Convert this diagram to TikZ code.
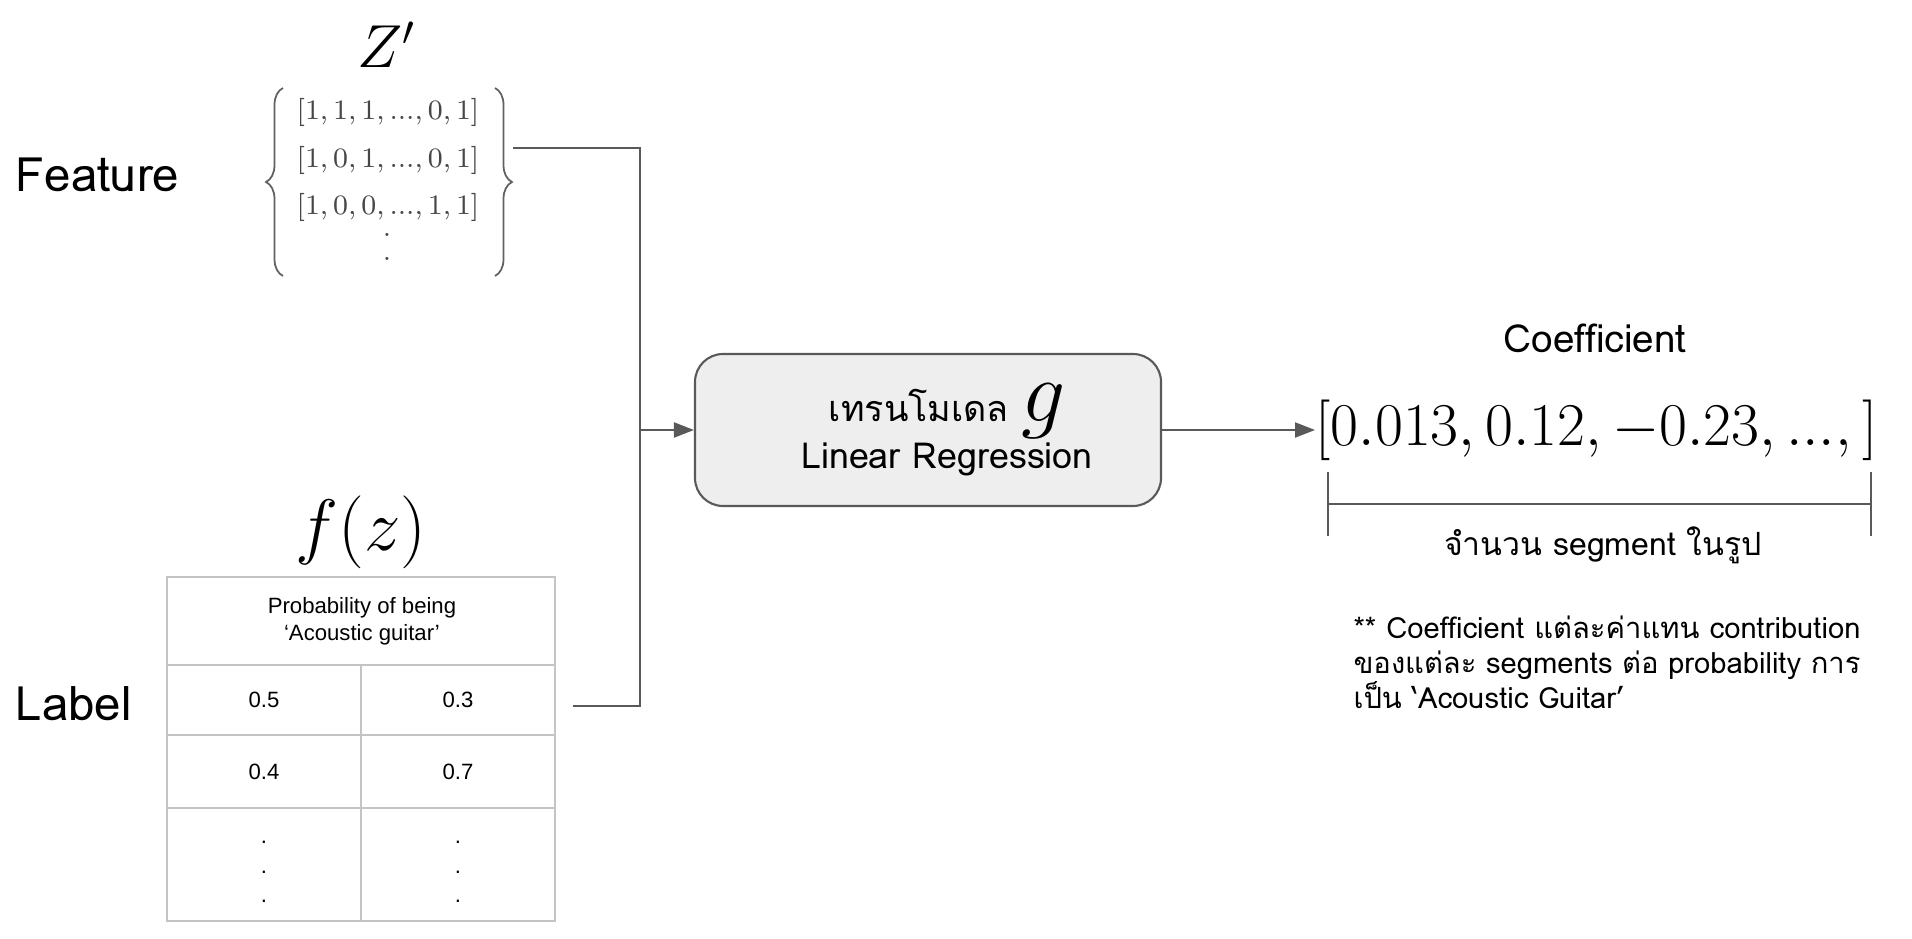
\documentclass[tikz,border=0pt]{standalone}
\usepackage{fontspec}
\newfontfamily\thaifont[Script=Thai]{Loma}
\newfontfamily\tabfont{Liberation Sans}
\usetikzlibrary{arrows.meta,decorations.pathreplacing}
\definecolor{linegray}{HTML}{595959}
\definecolor{cellgray}{HTML}{C4C4C4}
\definecolor{boxfill}{HTML}{EEEEEE}

\begin{document}
\begin{tikzpicture}[conn/.style={draw=linegray, line width=0.6pt},
    >={Triangle[length=0.2cm,width=0.15cm]},
    modelbox/.style={rectangle, rounded corners=0.28cm, draw=linegray, fill=boxfill, line width=0.6pt, minimum width=4.66cm, minimum height=1.52cm},
    sidetext/.style={font=\thaifont\fontsize{13.5}{15}\selectfont, anchor=west, inner sep=0pt},
    zrow/.style={text=black!72, inner sep=0pt, font=\fontsize{8.2}{10}\selectfont},
    setbrace/.style={draw=black!62, line width=0.5pt, decorate, decoration={brace, amplitude=0.17cm}},
    cell/.style={font=\tabfont\fontsize{6.3}{7.6}\selectfont},
    celldots/.style={cell, align=center, font=\tabfont\fontsize{6.3}{8.4}\selectfont},
    cellline/.style={draw=cellgray, line width=0.6pt}]
    \useasboundingbox (0,0) rectangle (19.12,9.38);

    % inputs
    \node (feat) at (0.15,7.63) [sidetext] {Feature};
    \node (lab) at (0.15,2.34) [sidetext] {Label};
    \node (zp) at (3.87,8.93) {\fontsize{17.5}{20}\selectfont$Z'$};
    \node (z1) at (3.88,8.26) [zrow] {$[1,1,1,...,0,1]$};
    \node (z2) at (3.88,7.78) [zrow] {$[1,0,1,...,0,1]$};
    \node (z3) at (3.88,7.31) [zrow] {$[1,0,0,...,1,1]$};
    \node (zd1) at (3.87,7.03) [zrow] {$.$};
    \node (zd2) at (3.87,6.79) [zrow] {$.$};
    \draw [setbrace] (2.83,6.62) -- (2.83,8.50);
    \draw [setbrace] (4.95,8.50) -- (4.95,6.62);
    \node (fz) at (3.61,4.06) {\fontsize{21.5}{24}\selectfont$f(z)$};

    % table of f(z)
    \node (tab) at (3.61,1.89) [draw=cellgray, line width=0.6pt, minimum width=3.88cm, minimum height=3.44cm, inner sep=0pt] {};
    \draw [cellline] (1.67,2.73) -- (5.55,2.73);
    \draw [cellline] (1.67,2.03) -- (5.55,2.03);
    \draw [cellline] (1.67,1.30) -- (5.55,1.30);
    \draw [cellline] (3.61,2.73) -- (3.61,0.17);
    \node (head) at (3.62,3.17) [cell, align=center] {Probability of being\\‘Acoustic guitar’};
    \node (c11) at (2.64,2.38) [cell] {0.5};
    \node (c12) at (4.58,2.38) [cell] {0.3};
    \node (c21) at (2.64,1.66) [cell] {0.4};
    \node (c22) at (4.58,1.66) [cell] {0.7};
    \node (c31) at (2.64,0.66) [celldots] {.\\.\\.};
    \node (c32) at (4.58,0.66) [celldots] {.\\.\\.};

    % model
    \node (model) at (9.28,5.08) [modelbox] {};
    \node (modeltxt) at (9.47,5.08) [align=center, font=\thaifont\fontsize{10.2}{13.4}\selectfont]
      {เทรนโมเดล {\fontsize{23}{23}\selectfont$g$}\\Linear Regression};

    % output
    \node (coef) at (15.95,6.00) [font=\thaifont\fontsize{11}{13}\selectfont] {Coefficient};
    \node (vec) at (13.15,5.08) [anchor=west, inner sep=0pt] {\fontsize{18.1}{20}\selectfont$[0.013, 0.12, -0.23, ..., ]$};
    \coordinate (segL) at (13.27,4.34);
    \coordinate (segR) at (18.72,4.34);
    \node (segtxt) at (16.03,3.93) [font=\thaifont\fontsize{9.1}{12}\selectfont] {จำนวน segment ในรูป};
    \node (note) at (16.07,2.76) [text width=5.07cm, align=justify, inner sep=0pt, font=\thaifont\fontsize{8.3}{10}\selectfont]
      {** Coefficient แต่ละค่าแทน contribution\linebreak ของแต่ละ segments ต่อ probability การ\linebreak เป็น ‘Acoustic Guitar’};

    % connectors
    \coordinate (featout) at (5.13,7.90);
    \coordinate (labout) at (5.73,2.32);
    \coordinate (join) at (6.40,5.08);
    \draw [conn] (featout) -| (join);
    \draw [conn] (labout) -| (join);
    \draw [conn, ->] (join) -- (model);
    \draw [conn, ->] (model) -- (vec);
    \draw [conn, {Bar[width=0.64cm]}-{Bar[width=0.64cm]}] (segL) -- (segR);
\end{tikzpicture}
\end{document}
